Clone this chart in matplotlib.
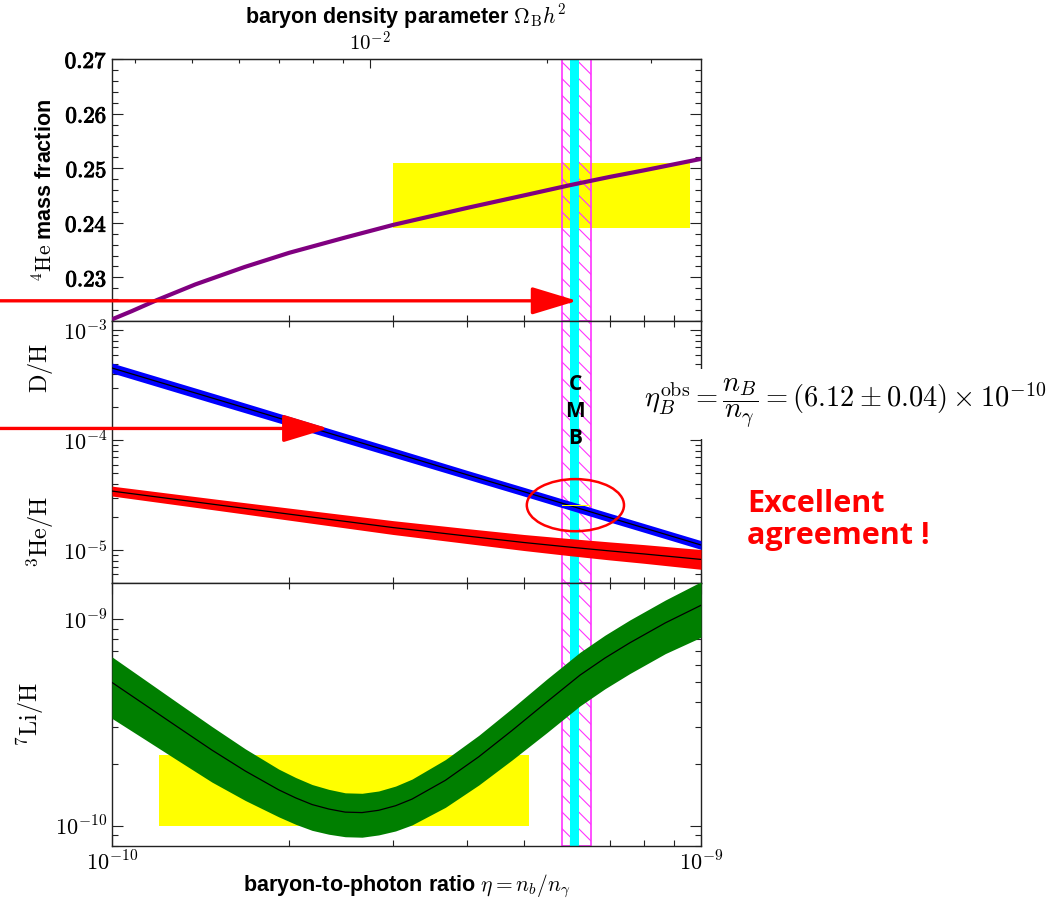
import numpy as np
import matplotlib
matplotlib.use('Agg')
import matplotlib.pyplot as plt
from matplotlib import ticker
from matplotlib import patheffects
from matplotlib.patches import Ellipse, ConnectionPatch
from matplotlib.transforms import blended_transform_factory

plt.rcParams['mathtext.fontset'] = 'cm'
plt.rcParams['hatch.linewidth'] = 0.8
SANS = 'Liberation Sans'

# ---- data ----
# 4He mass fraction
eta_he4 = np.array([1.0, 1.08, 1.19, 1.385, 1.68, 2.0, 2.49, 3.0, 4.0, 5.0, 6.0, 7.0, 8.0, 10.0]) * 1e-10
yp = np.array([0.2223, 0.2238, 0.2258, 0.2287, 0.2319, 0.2345, 0.2373, 0.2396, 0.2427, 0.2450,
               0.2469, 0.2484, 0.2496, 0.2517])

# D/H and 3He/H (centre and half width in dex)
eta_mid = np.array([1.0, 1.5, 2.0, 3.0, 4.0, 5.0, 6.0, 7.0, 8.0, 10.0]) * 1e-10
dh = np.array([4.55e-4, 2.37e-4, 1.49e-4, 7.74e-5, 4.86e-5, 3.40e-5, 2.53e-5, 1.97e-5, 1.59e-5, 1.11e-5])
dh_dex = np.array([0.045, 0.045, 0.043, 0.042, 0.040, 0.040, 0.040, 0.040, 0.040, 0.040])
he3 = np.array([3.44e-5, 2.59e-5, 2.12e-5, 1.60e-5, 1.34e-5, 1.17e-5, 1.06e-5, 9.8e-6, 9.2e-6, 8.2e-6])
he3_dex = np.array([0.045, 0.050, 0.055, 0.063, 0.068, 0.073, 0.078, 0.082, 0.085, 0.090])

# 7Li/H (centre and relative error)
eta_li = np.array([1.0, 1.139, 1.298, 1.478, 1.684, 1.919, 2.05, 2.186, 2.334, 2.489, 2.658,
                   2.836, 3.03, 3.231, 3.681, 4.195, 4.776, 5.47, 6.23, 6.87, 7.57, 8.7, 10.0]) * 1e-10
li = np.array([4.95e-10, 3.85e-10, 2.99e-10, 2.33e-10, 1.845e-10, 1.496e-10, 1.368e-10, 1.27e-10,
               1.208e-10, 1.167e-10, 1.161e-10, 1.191e-10, 1.253e-10, 1.349e-10, 1.663e-10,
               2.163e-10, 2.897e-10, 3.98e-10, 5.37e-10, 6.50e-10, 7.70e-10, 9.62e-10, 1.17e-9])
li_rel = np.array([0.33, 0.32, 0.31, 0.30, 0.28, 0.26, 0.255, 0.25, 0.245, 0.24, 0.24, 0.24,
                   0.245, 0.25, 0.26, 0.27, 0.28, 0.29, 0.29, 0.29, 0.29, 0.29, 0.30])

# observations
he4_box_eta = [3.0e-10, 9.58e-10]
he4_box_y = [0.239, 0.251]
li_box_eta = [1.2e-10, 5.1e-10]
li_box_y = [1.0e-10, 2.2e-10]
cmb_eta = [5.99e-10, 6.21e-10]
cmb_wide = [5.80e-10, 6.51e-10]
eta_obs = 6.12e-10
dh_obs = 2.56e-5
dh_obs_err = 0.03e-5
eta_per_omega = 2.739e-8   # eta = 2.739e-8 * Omega_B h^2

# tick positions
omega_major = [0.01]
omega_minor = [0.004, 0.005, 0.006, 0.007, 0.008, 0.009, 0.02, 0.03]
eta_major = [1e-10, 1e-9]
dh_major = [1e-5, 1e-4, 1e-3]
li_major = [1e-10, 1e-9]

# arrows (tip position)
arrow_he4 = (6.16e-10, 0.2257)
arrow_dh = (2.33e-10, 1.28e-4)


def pow10(v, pos):
    return r'$10^{%d}$' % int(round(np.log10(v)))


# ---- figure ----
fig = plt.figure(figsize=(10.58, 9.0), dpi=100)
L, W = 112 / 1058, 589 / 1058
ax1 = fig.add_axes([L, 1 - 321 / 900, W, 262 / 900])
ax2 = fig.add_axes([L, 1 - 583 / 900, W, 262 / 900])
ax3 = fig.add_axes([L, 1 - 846 / 900, W, 263 / 900])

for ax in (ax1, ax2, ax3):
    ax.set_xscale('log')
    ax.set_xlim(1e-10, 1e-9)
    ax.xaxis.set_major_locator(ticker.FixedLocator(eta_major))
    ax.xaxis.set_major_formatter(ticker.FuncFormatter(pow10))
    ax.xaxis.set_minor_formatter(ticker.NullFormatter())
    for sp in ax.spines.values():
        sp.set_linewidth(1.0)
        sp.set_color('#222222')
    ax.tick_params(which='both', direction='in', top=True, right=True, width=0.8,
                   color='#222222', labelsize=16)
    ax.tick_params(which='major', length=8)
    ax.tick_params(which='minor', length=4)
    # CMB band
    ax.axvspan(cmb_wide[0], cmb_wide[1], facecolor='none', edgecolor='#ff33ff', hatch='\\\\',
               lw=1.2, zorder=1.5)
    ax.axvspan(cmb_eta[0], cmb_eta[1], color='#00ffff', lw=0, zorder=2)

# top panel: 4He
ax1.fill_between(he4_box_eta, he4_box_y[0], he4_box_y[1], color='#ffff00', lw=0, zorder=1)
ax1.plot(eta_he4, yp, color='#800080', lw=3, zorder=3, solid_capstyle='butt')
ax1.set_ylim(0.222, 0.27)
ax1.yaxis.set_major_locator(ticker.MultipleLocator(0.01))
ax1.yaxis.set_minor_locator(ticker.MultipleLocator(0.002))
ax1.yaxis.set_major_formatter(ticker.FuncFormatter(lambda v, p: r'$\mathbf{%.2f}$' % v))
ax1.tick_params(axis='y', which='major', labelsize=16.5)
for t in ax1.yaxis.get_major_ticks():
    t.label1.set_path_effects([patheffects.withStroke(linewidth=0.7, foreground='black')])
ax1.tick_params(axis='x', which='both', top=False, labelbottom=False)
ax1.text(-0.1138, 0.5, r'${}^{4}\mathrm{He}$ mass fraction', transform=ax1.transAxes,
         rotation=90, ha='center', va='center', fontsize=15.5, fontweight='bold', family=SANS)

sec = ax1.secondary_xaxis('top', functions=(lambda e: e / eta_per_omega, lambda o: o * eta_per_omega))
sec.xaxis.set_major_locator(ticker.FixedLocator(omega_major))
sec.xaxis.set_minor_locator(ticker.FixedLocator(omega_minor))
sec.xaxis.set_major_formatter(ticker.FuncFormatter(pow10))
sec.xaxis.set_minor_formatter(ticker.NullFormatter())
sec.tick_params(which='both', direction='in', width=0.8, color='#222222', labelsize=15, pad=3)
sec.tick_params(which='major', length=6.5)
sec.tick_params(which='minor', length=3.2)
sec.spines['top'].set_color('#222222')
fig.text(406 / 1058, 1 - 17 / 900, r'baryon density parameter $\Omega_{\mathrm{B}}h^2$',
         fontsize=15.5, fontweight='bold', family=SANS, ha='center', va='center')

# middle panel: D/H and 3He/H
ax2.set_yscale('log')
ax2.fill_between(eta_mid, dh * 10 ** -dh_dex, dh * 10 ** dh_dex, color='#0000ff', lw=0, zorder=3)
ax2.plot(eta_mid, dh, color='black', lw=0.9, zorder=3.5)
ax2.fill_between(eta_mid, he3 * 10 ** -he3_dex, he3 * 10 ** he3_dex, color='#ff0000', lw=0, zorder=3)
ax2.plot(eta_mid, he3, color='black', lw=0.9, zorder=3.5)
ax2.fill_between(cmb_wide, dh_obs - dh_obs_err, dh_obs + dh_obs_err, color='#ffff00', lw=0, zorder=4)
ax2.set_ylim(5.0e-6, 1.22e-3)
ax2.yaxis.set_major_locator(ticker.FixedLocator(dh_major))
ax2.yaxis.set_major_formatter(ticker.FuncFormatter(pow10))
ax2.yaxis.set_minor_formatter(ticker.NullFormatter())
ax2.tick_params(axis='x', which='both', labelbottom=False)
ax2.text(-0.122, 0.822, r'$\mathrm{D/H}$', transform=ax2.transAxes, rotation=90,
         ha='center', va='center', fontsize=17.5)
ax2.text(-0.122, 0.195, r'${}^{3}\mathrm{He/H}$', transform=ax2.transAxes, rotation=90,
         ha='center', va='center', fontsize=17.5)

cmb_tr = blended_transform_factory(ax2.transData, ax2.transAxes)
for letter, yf in zip('CMB', [0.756, 0.654, 0.553]):
    ax2.text(eta_obs, yf, letter, transform=cmb_tr, ha='center', va='center', fontsize=15,
             fontweight='bold', family='Open Sans', zorder=6)

cx, cy = ax2.transAxes.inverted().transform(ax2.transData.transform((eta_obs, dh_obs)))
ax2.add_patch(Ellipse((cx, cy), 0.165, 0.199, transform=ax2.transAxes, fill=False,
                      ec='red', lw=1.8, zorder=7))

# bottom panel: 7Li/H
ax3.set_yscale('log')
ax3.fill_between(li_box_eta, li_box_y[0], li_box_y[1], color='#ffff00', lw=0, zorder=1)
ax3.fill_between(eta_li, li * (1 - li_rel), li * (1 + li_rel), color='#007f00', lw=0, zorder=3)
ax3.plot(eta_li, li, color='black', lw=0.9, zorder=3.5)
ax3.set_ylim(8.0e-11, 1.5e-9)
ax3.yaxis.set_major_locator(ticker.FixedLocator(li_major))
ax3.yaxis.set_major_formatter(ticker.FuncFormatter(pow10))
ax3.yaxis.set_minor_formatter(ticker.NullFormatter())
ax3.tick_params(axis='x', which='major', pad=3)
ax3.set_xlabel(r'baryon-to-photon ratio $\eta = n_b/n_\gamma$', fontsize=15.5,
               fontweight='bold', family=SANS, labelpad=-1)
ax3.text(-0.139, 0.5, r'${}^{7}\mathrm{Li/H}$', transform=ax3.transAxes, rotation=90,
         ha='center', va='center', fontsize=17.5)

# red arrows from the left edge of the figure
for ax, tip in ((ax1, arrow_he4), (ax2, arrow_dh)):
    start_tr = blended_transform_factory(fig.transFigure, ax.transData)
    arr = ConnectionPatch(xyA=(0, tip[1]), coordsA=start_tr, xyB=tip, coordsB=ax.transData,
                          arrowstyle='-|>,head_length=2.8,head_width=0.85', mutation_scale=10,
                          lw=2.4, color='red', shrinkA=0, shrinkB=0, zorder=8)
    fig.add_artist(arr)

# formula and comment
fig.text(845 / 1058, 1 - 404 / 900,
         r'$\eta_B^{\mathrm{obs}} = \dfrac{n_B}{n_\gamma} = (6.12 \pm 0.04) \times 10^{-10}$',
         fontsize=20.5, ha='center', va='center',
         bbox=dict(facecolor='white', edgecolor='none', pad=6))
fig.text(747 / 1058, 1 - 512 / 900, 'Excellent', color='#ff0000', fontsize=22,
         fontweight='bold', family='Open Sans', va='baseline')
fig.text(747 / 1058, 1 - 544 / 900, 'agreement !', color='#ff0000', fontsize=22,
         fontweight='bold', family='Open Sans', va='baseline')

fig.savefig('out.png', dpi=100)
